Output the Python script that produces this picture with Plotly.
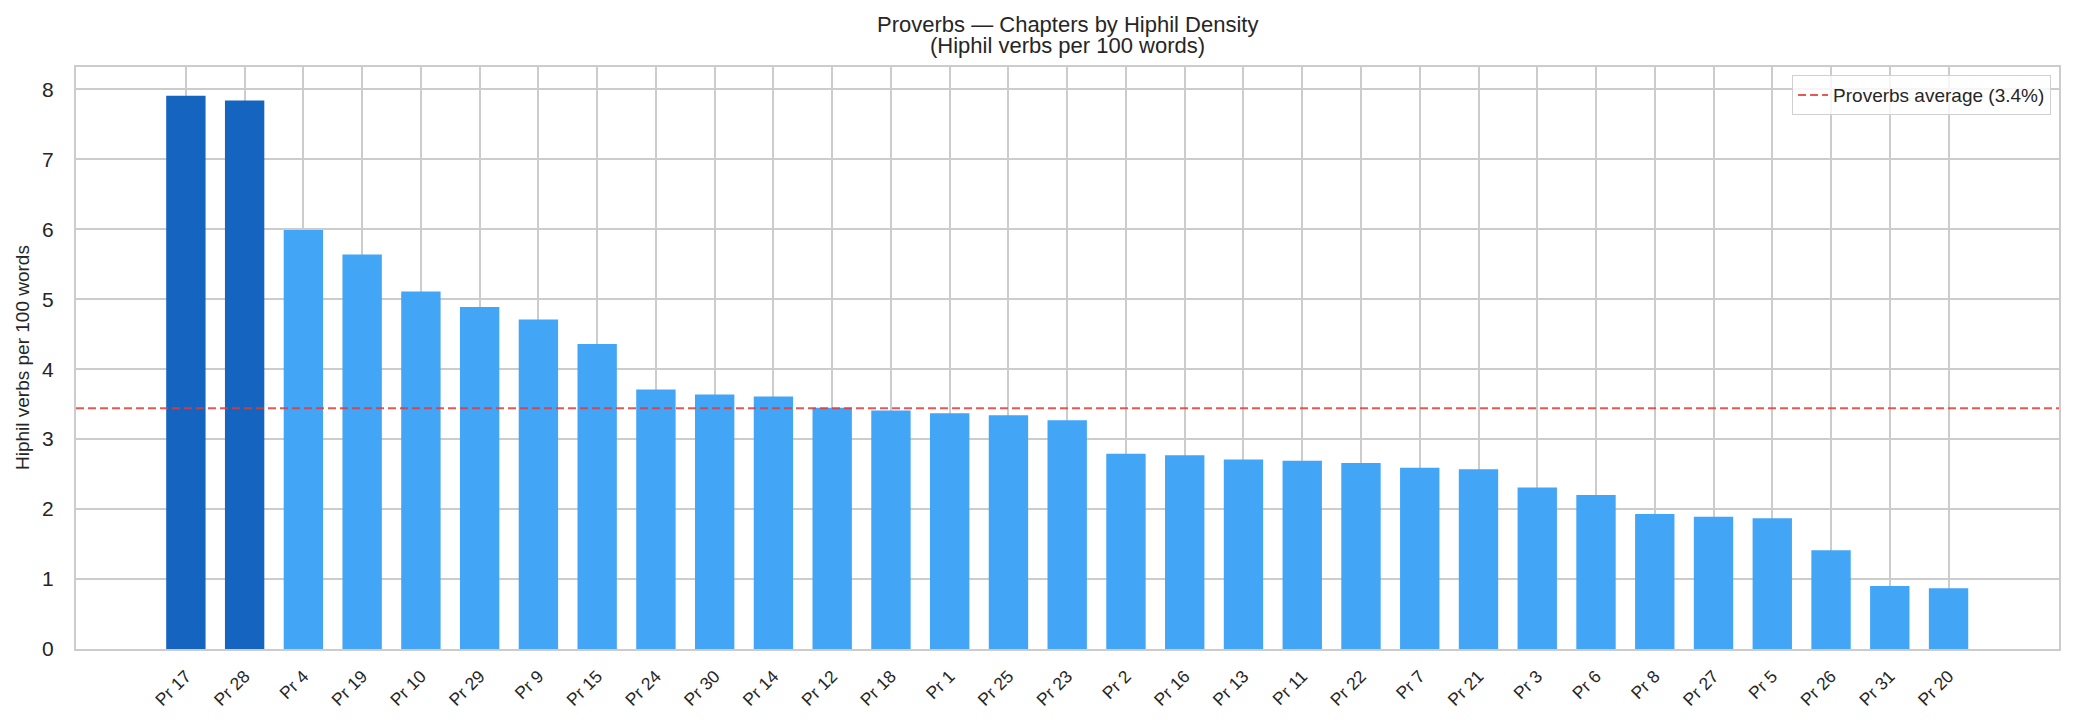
import plotly.graph_objects as go

chapters = ["Pr 17", "Pr 28", "Pr 4", "Pr 19", "Pr 10", "Pr 29", "Pr 9", "Pr 15",
            "Pr 24", "Pr 30", "Pr 14", "Pr 12", "Pr 18", "Pr 1", "Pr 25", "Pr 23",
            "Pr 2", "Pr 16", "Pr 13", "Pr 11", "Pr 22", "Pr 7", "Pr 21", "Pr 3",
            "Pr 6", "Pr 8", "Pr 27", "Pr 5", "Pr 26", "Pr 31", "Pr 20"]
density = [7.91, 7.84, 5.99, 5.64, 5.11, 4.89, 4.71, 4.36,
           3.71, 3.64, 3.61, 3.45, 3.41, 3.37, 3.34, 3.27,
           2.79, 2.77, 2.71, 2.69, 2.66, 2.59, 2.57, 2.31,
           2.20, 1.93, 1.89, 1.87, 1.41, 0.90, 0.87]
highlight = ["Pr 17", "Pr 28"]
average = 3.44
avg_label = "Proverbs average (3.4%)"
title_line1 = "Proverbs — Chapters by Hiphil Density"
title_line2 = "(Hiphil verbs per 100 words)"
y_title = "Hiphil verbs per 100 words"

# page body has an 8px margin: figure is sized to fit inside the window
OFF = 8
W, H = 2073 - 2 * OFF, 726 - 2 * OFF
ML = 76 - OFF
MT = 67 - OFF
MR = W - (2059 - OFF)
MB = H - (649 - OFF)
PW, PH = W - ML - MR, H - MT - MB

colors = ["#1565C0" if c in highlight else "#42A5F5" for c in chapters]
avg_line = dict(color="rgba(229,57,53,0.85)", width=2, dash="8px,4px")
txt = "#262626"

fig = go.Figure()
fig.add_trace(go.Bar(x=chapters, y=density, marker=dict(color=colors, line=dict(width=0)),
                     width=0.67, showlegend=False))
fig.add_trace(go.Scatter(x=[None], y=[None], mode="lines", name=avg_label, line=avg_line))
fig.add_shape(type="line", xref="paper", yref="y", x0=0, x1=1, y0=average, y1=average,
              line=avg_line, layer="above")

fig.add_annotation(text=title_line1, xref="paper", yref="paper", x=0.5,
                   y=1 + (MT - (24 - OFF)) / PH, xanchor="center", yanchor="middle",
                   showarrow=False, font=dict(size=22, color=txt))
fig.add_annotation(text=title_line2, xref="paper", yref="paper", x=0.5,
                   y=1 + (MT - (46 - OFF)) / PH, xanchor="center", yanchor="middle",
                   showarrow=False, font=dict(size=22, color=txt))
fig.add_annotation(text=y_title, xref="paper", yref="paper", x=-(ML - (22 - OFF)) / PW, y=0.5,
                   xanchor="center", yanchor="middle", textangle=-90,
                   showarrow=False, font=dict(size=19, color=txt))

n = len(chapters)
fig.update_layout(
    width=W, height=H,
    margin=dict(l=ML, r=MR, t=MT, b=MB),
    paper_bgcolor="white", plot_bgcolor="white",
    font=dict(family="Liberation Sans, Arial, sans-serif", color=txt),
    legend=dict(x=0.996, y=0.986, xanchor="right", yanchor="top",
                bgcolor="rgba(255,255,255,0.8)", bordercolor="#d0d0d0", borderwidth=1,
                font=dict(size=19), tracegroupgap=0),
    xaxis=dict(type="category", range=[-1.87, n - 1 + 1.88], tickangle=-45,
               tickfont=dict(size=17.5), showgrid=True, gridcolor="#cccccc", gridwidth=1.7,
               showline=True, linecolor="#cccccc", linewidth=2.2, mirror=True,
               ticks="", ticklabelstandoff=8, automargin=False),
    yaxis=dict(range=[0, 8.32], dtick=1, tickfont=dict(size=21),
               showgrid=True, gridcolor="#cccccc", gridwidth=1.7,
               showline=True, linecolor="#cccccc", linewidth=2.2, mirror=True,
               zeroline=False, ticks="", ticklabelstandoff=16, automargin=False),
)

fig.write_html("out.html")
